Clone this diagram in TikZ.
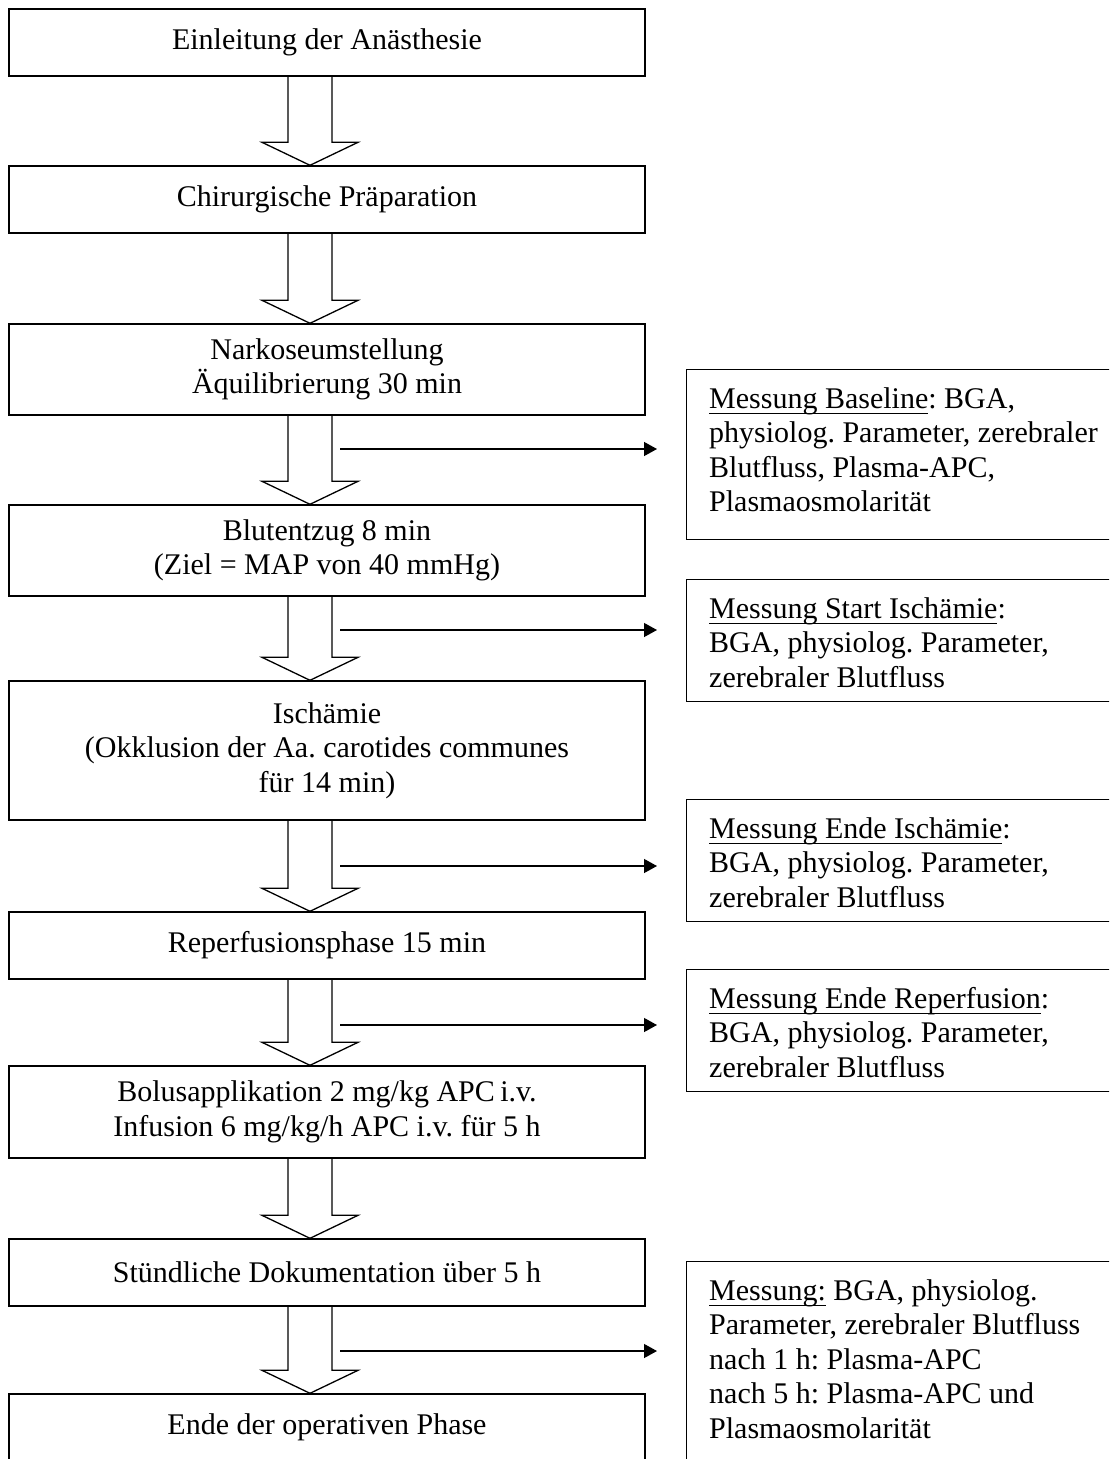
\documentclass[tikz,border=0pt]{standalone}
\usepackage{fontspec}
\setmainfont{Liberation Serif}
\usetikzlibrary{arrows.meta,calc}
\frenchspacing
\newlength\ulw
\newcommand\myul[1]{\settowidth{\ulw}{#1}\rlap{\rule[-6pt]{\ulw}{1.3pt}}#1}
\newcommand\barrow[2]{%
  \draw[blockarrow] let \p1=(#1.south), \p2=(#2.north) in
    (288pt,\y1) -- (288pt,\y2+23pt) -- (262pt,\y2+23pt) -- (310pt,\y2)
    -- (358pt,\y2+23pt) -- (332pt,\y2+23pt) -- (332pt,\y1);}
\begin{document}
\begin{tikzpicture}[x=1pt,y=-1pt,
  font=\fontsize{30}{34.5}\selectfont,
  lbox/.style={draw, line width=1.4pt, minimum width=636pt, inner sep=0pt, align=center},
  rbox/.style={draw, line width=1.4pt, minimum width=429pt, anchor=north west, inner sep=0pt},
  rtext/.style={anchor=north west, inner sep=0pt, align=left},
  blockarrow/.style={line width=1.3pt, line join=miter},
  sidearrow/.style={line width=1.3pt, -{Triangle[length=13pt,width=14pt]}, shorten >=29pt}]
\useasboundingbox (0,0) rectangle (1109,1459);
\fill[white] (0,0) rectangle (1109,1459);
\clip (0,0) rectangle (1109,1459);

% left column
\node[lbox, minimum height=67pt] (b1) at (327,42.5) {Einleitung der Anästhesie};
\node[lbox, minimum height=67pt] (b2) at (327,199.5) {Chirurgische Präparation};
\node[lbox, minimum height=91pt] (b3) at (327,369.5) {Narkoseumstellung\\Äquilibrierung 30 min};
\node[lbox, minimum height=91pt] (b4) at (327,550.5) {Blutentzug 8 min\\(Ziel = MAP von 40 mmHg)};
\node[lbox, minimum height=139pt] (b5) at (327,750.5) {Ischämie\\(Okklusion der Aa. carotides communes\\für 14 min)};
\node[lbox, minimum height=67pt] (b6) at (327,945.5) {Reperfusionsphase 15 min};
\node[lbox, minimum height=92pt] (b7) at (327,1112) {Bolusapplikation 2 mg/kg APC\hspace{0.18em}i.v.\\Infusion 6 mg/kg/h APC i.v. für 5 h};
\node[lbox, minimum height=67pt] (b8) at (327,1272.5) {Stündliche Dokumentation über 5 h};
\node[lbox, minimum height=67pt] (b9) at (327,1427.5) {Ende der operativen Phase};

\barrow{b1}{b2}
\barrow{b2}{b3}
\barrow{b3}{b4}
\barrow{b4}{b5}
\barrow{b5}{b6}
\barrow{b6}{b7}
\barrow{b7}{b8}
\barrow{b8}{b9}

% right column
\node[rbox, minimum height=170pt] (r1) at (686,369) {};
\node[rbox, minimum height=122pt] (r2) at (686,579) {};
\node[rbox, minimum height=122pt] (r3) at (686,799) {};
\node[rbox, minimum height=122pt] (r4) at (686,969) {};
\node[rbox, minimum height=220pt] (r5) at (686,1261) {};

\node[rtext] (t1) at ($(r1.north west)+(23,18)$) {\myul{Messung Baseline}: BGA,\\physiolog. Parameter, zerebraler\\Blutfluss, Plasma-APC,\\Plasmaosmolarität};
\node[rtext] (t2) at ($(r2.north west)+(23,18)$) {\myul{Messung Start Ischämie}:\\BGA, physiolog. Parameter,\\zerebraler Blutfluss};
\node[rtext] (t3) at ($(r3.north west)+(23,18)$) {\myul{Messung Ende Ischämie}:\\BGA, physiolog. Parameter,\\zerebraler Blutfluss};
\node[rtext] (t4) at ($(r4.north west)+(23,18)$) {\myul{Messung Ende Reperfusion}:\\BGA, physiolog. Parameter,\\zerebraler Blutfluss};
\node[rtext] (t5) at ($(r5.north west)+(23,18)$) {\myul{Messung:} BGA, physiolog.\\Parameter, zerebraler Blutfluss\\nach 1 h: Plasma-APC\\nach 5 h: Plasma-APC und\\Plasmaosmolarität};

% side arrows
\coordinate (s1) at (340,449);
\coordinate (s2) at (340,630);
\coordinate (s3) at (340,866);
\coordinate (s4) at (340,1025);
\coordinate (s5) at (340,1351);
\draw[sidearrow] (s1) -- (s1 -| r1.west);
\draw[sidearrow] (s2) -- (s2 -| r2.west);
\draw[sidearrow] (s3) -- (s3 -| r3.west);
\draw[sidearrow] (s4) -- (s4 -| r4.west);
\draw[sidearrow] (s5) -- (s5 -| r5.west);
\end{tikzpicture}
\end{document}
